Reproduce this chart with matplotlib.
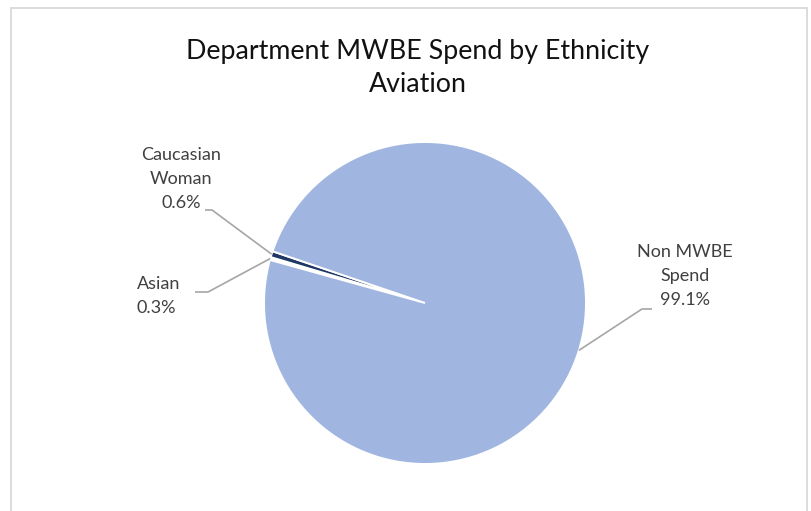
import numpy as np
import matplotlib
matplotlib.use("Agg")
import matplotlib.pyplot as plt
from matplotlib.patches import Rectangle

# Spend shares (percent), listed in clockwise drawing order
categories = ["Asian", "Caucasian\nWoman", "Non MWBE\nSpend"]
shares = [0.3, 0.6, 99.1]
colors = ["#FFFFFF", "#1F3864", "#A0B6E0"]
title = "Department MWBE Spend by Ethnicity\nAviation"

W, H, DPI = 812, 511, 100
R_PX = 161.0                 # pie radius in pixels
CX, CY = 425.0, 511 - 303.0  # pie centre in pixels (from bottom-left)

fig = plt.figure(figsize=(W / DPI, H / DPI), dpi=DPI)
fig.patch.set_facecolor("white")

# chart-area frame
fig.add_artist(Rectangle((11 / W, -0.05), (807 - 11) / W, (511 - 8) / H + 0.05,
                         transform=fig.transFigure, fill=False,
                         edgecolor="#D9D9D9", linewidth=1.3))

ax = fig.add_axes([0, 0, 1, 1])
wedges, _ = ax.pie(shares, colors=colors, startangle=164.5, counterclock=False,
                   radius=1.0, center=(0, 0),
                   wedgeprops=dict(edgecolor="white", linewidth=1.4))
ax.set_xlim(-CX / R_PX, (W - CX) / R_PX)
ax.set_ylim(-CY / R_PX, (H - CY) / R_PX)
ax.set_aspect("equal")
ax.axis("off")

FONT = "Lato"
fig.text(418 / W, 1 - 68 / H, title, ha="center", va="center",
         fontsize=19.3, family=FONT, color="#111111", linespacing=1.45)

def px(x, y):
    return x / R_PX - CX / R_PX, (H - y) / R_PX - CY / R_PX

# label text anchor, elbow point, text alignment
label_specs = {
    "Asian":           dict(text=(137, 296), elbow=(208, 292), ha="left"),
    "Caucasian\nWoman": dict(text=(181, 179), elbow=(212, 210), ha="center"),
    "Non MWBE\nSpend": dict(text=(685, 276), elbow=(642, 309), ha="center"),
}

for w, cat, val in zip(wedges, categories, shares):
    spec = label_specs[cat]
    ang = np.deg2rad((w.theta1 + w.theta2) / 2)
    ex, ey = np.cos(ang), np.sin(ang)
    bx, by = px(*spec["elbow"])
    tx, ty = px(*spec["text"])
    if cat == "Non MWBE\nSpend":
        hx = bx + 10 / R_PX
    elif cat == "Asian":
        hx = bx - 13 / R_PX
    else:
        hx = bx - 7 / R_PX
    ax.plot([ex, bx, hx], [ey, by, by], color="#A6A6A6", linewidth=1.2,
            solid_capstyle="butt")
    ax.text(tx, ty, f"{cat}\n{val:.1f}%", ha=spec["ha"], va="center",
            fontsize=13, family=FONT, color="#404040", linespacing=1.6)

fig.savefig("out.png", dpi=DPI, facecolor="white")
